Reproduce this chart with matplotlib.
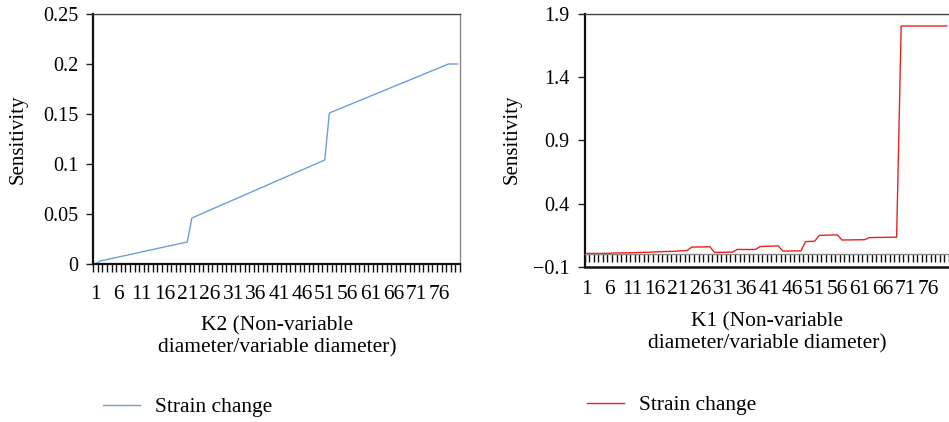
import matplotlib.pyplot as plt

plt.rcParams['font.family'] = ['Liberation Serif', 'DejaVu Serif']

# 80 diameter ratio cases, labelled every fifth one
categories = list(range(1, 81))
x_tick_values = list(range(1, 77, 5))
x_tick_labels = [str(v) for v in x_tick_values]

# K2 sensitivity (strain change)
k2_strain = [
    0.0000, 0.0030, 0.0040, 0.0050, 0.0060, 0.0070, 0.0080, 0.0090, 0.0100, 0.0110,
    0.0120, 0.0130, 0.0140, 0.0150, 0.0160, 0.0170, 0.0180, 0.0190, 0.0200, 0.0210,
    0.0220, 0.0460, 0.0480, 0.0500, 0.0520, 0.0540, 0.0560, 0.0580, 0.0600, 0.0620,
    0.0640, 0.0660, 0.0680, 0.0700, 0.0720, 0.0740, 0.0760, 0.0780, 0.0800, 0.0820,
    0.0840, 0.0860, 0.0880, 0.0900, 0.0920, 0.0940, 0.0960, 0.0980, 0.1000, 0.1020,
    0.1040, 0.1510, 0.1529, 0.1548, 0.1567, 0.1585, 0.1604, 0.1623, 0.1642, 0.1661,
    0.1680, 0.1698, 0.1717, 0.1736, 0.1755, 0.1774, 0.1793, 0.1812, 0.1830, 0.1849,
    0.1868, 0.1887, 0.1906, 0.1925, 0.1943, 0.1962, 0.1981, 0.2000, 0.2000, 0.2000,
]

# K1 sensitivity (strain change)
k1_strain = [
    0.005, 0.005, 0.005, 0.005, 0.006, 0.006, 0.008, 0.009, 0.010, 0.010,
    0.011, 0.012, 0.013, 0.014, 0.015, 0.017, 0.018, 0.020, 0.021, 0.022,
    0.024, 0.026, 0.028, 0.055, 0.056, 0.056, 0.057, 0.058, 0.013, 0.014,
    0.014, 0.015, 0.016, 0.037, 0.036, 0.036, 0.036, 0.037, 0.059, 0.061,
    0.062, 0.063, 0.065, 0.024, 0.024, 0.025, 0.025, 0.026, 0.099, 0.100,
    0.102, 0.148, 0.149, 0.150, 0.151, 0.152, 0.111, 0.112, 0.112, 0.113,
    0.113, 0.114, 0.130, 0.131, 0.132, 0.132, 0.133, 0.133, 0.134, 1.805,
    1.805, 1.805, 1.805, 1.805, 1.805, 1.805, 1.805, 1.805, 1.805, 1.805,
]

k2_yticks = [0, 0.05, 0.1, 0.15, 0.2, 0.25]
k2_ylabels = ['0', '0.05', '0.1', '0.15', '0.2', '0.25']
k1_yticks = [-0.1, 0.4, 0.9, 1.4, 1.9]
k1_ylabels = ['\u22120.1', '0.4', '0.9', '1.4', '1.9']

BLUE = '#6a9fdb'
RED = '#e8221d'
Y_TICK_SIZE = 14.5
X_TICK_SIZE = 15.5
TEXT_SIZE = 15.5
W, H = 949, 422


def category_axis(ax, label_pad):
    ax.set_xlim(0.5, 80.5)
    ax.set_xticks(x_tick_values)
    ax.set_xticklabels(x_tick_labels)
    ax.set_xticks([c - 0.5 for c in categories] + [80.5], minor=True)
    ax.tick_params(axis='x', which='major', length=0, pad=label_pad,
                   labelsize=X_TICK_SIZE)
    ax.tick_params(axis='x', which='minor', length=6, width=1.0,
                   direction='out', color='#111111')
    ax.tick_params(axis='y', length=5, width=1, pad=6, labelsize=Y_TICK_SIZE,
                   color='#222222')
    ax.spines['left'].set_linewidth(1.6)
    ax.spines['left'].set_color('#111111')
    ax.spines['top'].set_linewidth(1)
    ax.spines['top'].set_color('#444444')


fig = plt.figure(figsize=(W / 100, H / 100), dpi=100)

# left panel: K2
ax1 = fig.add_axes([93.3 / W, 1 - 264 / H, 366.7 / W, 250 / H])
ax1.plot(categories, k2_strain, color=BLUE, lw=1.0, label='Strain change')
ax1.set_ylim(0, 0.25)
ax1.set_yticks(k2_yticks)
ax1.set_yticklabels(k2_ylabels)
category_axis(ax1, label_pad=15)
ax1.spines['bottom'].set_linewidth(1.6)
ax1.spines['bottom'].set_color('#111111')
ax1.spines['right'].set_linewidth(1)
ax1.spines['right'].set_color('#888888')

# right panel: K1, category axis sits on zero
ax2 = fig.add_axes([584.7 / W, 1 - 266.7 / H, (W - 584.7) / W, 252.7 / H])
ax2.plot(categories, k1_strain, color=RED, lw=1.0, label='Strain change')
ax2.set_ylim(-0.1, 1.9)
ax2.set_yticks(k1_yticks)
ax2.set_yticklabels(k1_ylabels)
category_axis(ax2, label_pad=19)
ax2.spines['bottom'].set_position(('data', 0))
ax2.spines['bottom'].set_linewidth(1)
ax2.spines['bottom'].set_color('#888888')
ax2.spines['right'].set_visible(False)
ax2.axhline(-0.1, color='#111111', lw=1.8, clip_on=False)

# axis titles
fig.text(18 / W, 1 - 139 / H, 'Sensitivity', rotation=90, ha='center',
         va='center', fontsize=15)
fig.text(512 / W, 1 - 139 / H, 'Sensitivity', rotation=90, ha='center',
         va='center', fontsize=15)
fig.text(277 / W, 1 - 336.5 / H, 'K2 (Non-variable\ndiameter/variable diameter)',
         ha='center', va='center', fontsize=TEXT_SIZE, linespacing=1.2)
fig.text(767 / W, 1 - 332.5 / H, 'K1 (Non-variable\ndiameter/variable diameter)',
         ha='center', va='center', fontsize=TEXT_SIZE, linespacing=1.2)

# legends under each panel
ax1.legend(loc='center left', bbox_to_anchor=(103 / W, 1 - 407 / H),
           bbox_transform=fig.transFigure, frameon=False, borderpad=0,
           borderaxespad=0, handlelength=1.7, handletextpad=0.7,
           fontsize=TEXT_SIZE)
ax2.legend(loc='center left', bbox_to_anchor=(587 / W, 1 - 405 / H),
           bbox_transform=fig.transFigure, frameon=False, borderpad=0,
           borderaxespad=0, handlelength=1.7, handletextpad=0.7,
           fontsize=TEXT_SIZE)

fig.savefig('out.png', dpi=100)
